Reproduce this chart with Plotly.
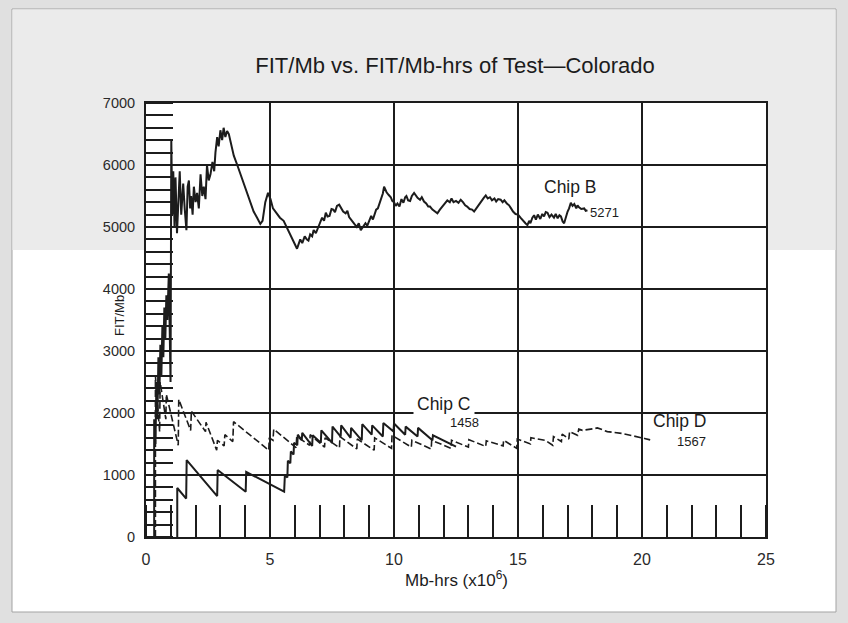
import plotly.graph_objects as go

# ---- data: cumulative FIT/Mb per chip vs. Mb-hrs (x10^6) ----
chip_b_x = [0.33, 0.33, 0.38, 0.42, 0.46, 0.50, 0.54, 0.58, 0.62, 0.66, 0.70, 0.74, 0.78, 0.82,
            0.86, 0.92, 0.99, 1.02, 1.06, 1.10, 1.15, 1.19, 1.25, 1.32, 1.36, 1.42, 1.50, 1.56,
            1.63, 1.68, 1.73, 1.78, 1.82, 1.88, 1.93, 2.00, 2.06, 2.13, 2.20, 2.27, 2.33, 2.40,
            2.46, 2.53, 2.60, 2.68, 2.75, 2.80, 2.87, 2.93, 3.00, 3.07, 3.13, 3.20, 3.27, 3.34,
            3.45, 3.54, 3.68, 3.81, 3.95, 4.08, 4.20, 4.34, 4.48, 4.61, 4.70, 4.81, 4.92, 5.02,
            5.12, 5.22, 5.40, 5.55, 5.72, 5.89, 6.00, 6.09,
            6.15, 6.22, 6.30, 6.40, 6.48, 6.55, 6.62, 6.70, 6.76, 6.85, 6.95, 7.02, 7.10, 7.18,
            7.25, 7.32, 7.40, 7.48, 7.55, 7.62, 7.70, 7.79, 7.87, 7.95, 8.05, 8.12, 8.19, 8.28,
            8.40, 8.50, 8.58, 8.66, 8.75, 8.85, 8.92, 9.00, 9.08, 9.15, 9.20, 9.28, 9.35, 9.42,
            9.50, 9.55, 9.60, 9.66, 9.70, 9.78, 9.87, 9.93, 10.00, 10.07, 10.14, 10.22, 10.30,
            10.38, 10.45, 10.50, 10.57, 10.65, 10.72, 10.81, 10.88, 10.95, 11.05, 11.12, 11.21,
            11.30, 11.38, 11.45, 11.55, 11.65, 11.75, 11.85, 11.95, 12.05, 12.15, 12.25, 12.32,
            12.40, 12.50, 12.60, 12.69, 12.78, 12.87, 12.95, 13.05, 13.15, 13.23, 13.32, 13.40,
            13.45, 13.55, 13.62, 13.70, 13.78, 13.87, 13.95, 14.05, 14.12, 14.20, 14.30, 14.38,
            14.45, 14.55, 14.64, 14.72, 14.80, 14.90, 15.00, 15.10, 15.20, 15.30, 15.38, 15.45,
            15.50, 15.58, 15.65, 15.72, 15.80, 15.90, 15.98, 16.05, 16.12, 16.19, 16.27, 16.35,
            16.45, 16.52, 16.60, 16.67, 16.73, 16.80, 16.86, 16.92, 17.00, 17.06, 17.13, 17.20,
            17.27, 17.35, 17.40, 17.45, 17.55, 17.67, 17.73, 17.80]
chip_b_y = [0, 1900, 1500, 2500, 1900, 2900, 2300, 3100, 2600, 3400, 2900, 3700, 3200, 3900,
            3500, 4250, 2500, 6400, 5200, 5900, 5000, 5800, 4900, 5400, 5900, 5200, 5700, 5300,
            4950, 5650, 5750, 5300, 5500, 5200, 5650, 5400, 5550, 5300, 5850, 5500, 5650, 5450,
            6000, 5750, 5850, 6050, 5900, 6200, 6450, 6300, 6560, 6400, 6600, 6450, 6550, 6500,
            6300, 6150, 6000, 5850, 5700, 5550, 5400, 5250, 5150, 5050, 5100, 5400, 5550, 5450,
            5300, 5250, 5150, 5100, 4950, 4800, 4700, 4650,
            4720, 4800, 4740, 4850, 4800, 4780, 4880, 4850, 4950, 4900, 5000, 5080, 5150, 5100,
            5230, 5170, 5180, 5290, 5280, 5240, 5340, 5360, 5300, 5250, 5220, 5260, 5160, 5120,
            5050, 5000, 5060, 4950, 5010, 5060, 5020, 5100, 5180, 5120, 5170, 5280, 5300, 5380,
            5450, 5540, 5650, 5590, 5560, 5520, 5480, 5420, 5400, 5340, 5380, 5330, 5450,
            5390, 5480, 5500, 5430, 5420, 5500, 5550, 5500, 5470, 5440, 5480, 5410,
            5380, 5330, 5330, 5280, 5250, 5220, 5280, 5330, 5380, 5430, 5400, 5460,
            5400, 5420, 5390, 5440, 5400, 5350, 5330, 5290, 5280, 5250, 5300, 5350,
            5380, 5430, 5470, 5510, 5460, 5480, 5430, 5460, 5410, 5450, 5440, 5400,
            5430, 5380, 5350, 5300, 5250, 5210, 5200, 5150, 5100, 5060, 5030, 5100,
            5060, 5150, 5190, 5120, 5200, 5130, 5210, 5170, 5240, 5230, 5160, 5200,
            5150, 5210, 5140, 5190, 5170, 5090, 5060, 5150, 5250, 5300, 5390, 5340,
            5370, 5300, 5350, 5320, 5290, 5300, 5260, 5271]

chip_c_x = [1.26, 1.26, 1.62, 1.64, 2.87, 2.89, 4.02, 4.04, 5.57, 5.60, 5.70, 5.72, 5.82, 5.84,
            5.95, 5.97, 6.10, 6.12, 6.28, 6.30, 6.70, 6.72, 7.05, 7.07, 7.50, 7.52, 7.85, 7.87,
            8.25, 8.27, 8.70, 8.72, 9.10, 9.12, 9.55, 9.57, 9.98, 10.00, 10.45, 10.47, 10.95,
            10.97, 11.55, 11.57, 12.50]
chip_c_y = [0, 790, 620, 1240, 660, 1080, 730, 1050, 730, 1000, 960, 1230, 1190, 1380,
            1330, 1520, 1480, 1650, 1560, 1680, 1470, 1640, 1520, 1720, 1520, 1780, 1620, 1800,
            1600, 1760, 1560, 1820, 1650, 1800, 1620, 1840, 1700, 1830, 1650, 1780, 1620,
            1760, 1560, 1640, 1458]

chip_d_x = [0.38, 0.38, 0.55, 0.57, 0.80, 0.82, 1.30, 1.32, 1.80, 1.83, 2.40, 2.42, 2.85, 2.88,
            3.15, 3.18, 3.50, 3.53, 4.95, 4.97, 5.12, 5.15, 6.05, 6.08, 6.60, 6.62, 7.20, 7.22,
            7.80, 7.82, 8.50, 8.52, 9.20, 9.22, 9.90, 9.92, 10.70, 10.72, 11.50, 11.52, 12.30,
            12.32, 13.00, 13.02, 13.70, 13.72, 14.40, 14.42, 14.95, 14.97, 15.50, 15.52, 16.10,
            16.40, 16.43, 16.75, 16.78, 17.05, 17.08, 17.40, 17.45, 17.60, 18.10, 18.20, 18.60,
            19.20, 20.10, 20.33]
chip_d_y = [0, 2600, 1700, 2500, 1900, 2300, 1480, 2220, 1720, 2030, 1700, 1850, 1400, 1560,
            1470, 1650, 1540, 1860, 1400, 1600, 1560, 1740, 1440, 1620, 1480, 1650, 1450, 1600,
            1440, 1620, 1420, 1580, 1400, 1600, 1430, 1640, 1450, 1560, 1420, 1560, 1430,
            1560, 1450, 1570, 1460, 1550, 1470, 1560, 1430, 1580, 1500, 1600, 1560,
            1480, 1620, 1540, 1660, 1580, 1700, 1640, 1740, 1720, 1750, 1760, 1700,
            1670, 1590, 1567]

x_tickvals = [0, 5, 10, 15, 20, 25]
y_tickvals = [0, 1000, 2000, 3000, 4000, 5000, 6000, 7000]

# ---- page geometry ----
W, H = 848, 623
ML, MR, MT, MB = 146, 82, 103, 86
PW, PH = W - ML - MR, H - MT - MB


def fx(px):
    return (px - ML) / PW


def fy(py):
    return (H - MB - py) / PH


INK = "#1c1c1c"
SANS = "Liberation Sans, Arial, Helvetica, sans-serif"

fig = go.Figure()
fig.add_trace(go.Scatter(x=chip_b_x, y=chip_b_y, mode="lines",
                         line=dict(color=INK, width=2), name="Chip B"))
fig.add_trace(go.Scatter(x=chip_c_x, y=chip_c_y, mode="lines",
                         line=dict(color=INK, width=2), name="Chip C"))
fig.add_trace(go.Scatter(x=chip_d_x, y=chip_d_y, mode="lines",
                         line=dict(color=INK, width=1.6, dash="7px,3px"), name="Chip D"))

# panel card with grey header band (kept outside the plotting area)
BAND = "#ebebeb"
shapes = [
    dict(type="rect", xref="paper", yref="paper", x0=fx(12), x1=fx(836), y0=fy(612), y1=fy(9),
         fillcolor="white", line=dict(color="#a3a3a3", width=1), layer="below"),
    dict(type="rect", xref="paper", yref="paper", x0=fx(12.5), x1=fx(835.5), y0=fy(MT), y1=fy(9.5),
         fillcolor=BAND, line=dict(width=0), layer="below"),
    dict(type="rect", xref="paper", yref="paper", x0=fx(12.5), x1=fx(ML), y0=fy(250), y1=fy(MT),
         fillcolor=BAND, line=dict(width=0), layer="below"),
    dict(type="rect", xref="paper", yref="paper", x0=fx(W - MR), x1=fx(835.5), y0=fy(250), y1=fy(MT),
         fillcolor=BAND, line=dict(width=0), layer="below"),
]

annotations = [
    dict(text="Chip B", x=17.1, y=5645, xref="x", yref="y", showarrow=False,
         font=dict(family=SANS, size=17.5, color=INK)),
    dict(text="5271", x=18.5, y=5240, xref="x", yref="y", showarrow=False,
         font=dict(family=SANS, size=13, color=INK)),
    dict(text="Chip C", x=12.0, y=2140, xref="x", yref="y", showarrow=False,
         bgcolor="white", borderpad=3,
         font=dict(family=SANS, size=17.5, color=INK)),
    dict(text="1458", x=12.83, y=1839, xref="x", yref="y", showarrow=False,
         font=dict(family=SANS, size=13, color=INK)),
    dict(text="Chip D", x=21.53, y=1870, xref="x", yref="y", showarrow=False,
         font=dict(family=SANS, size=17.5, color=INK)),
    dict(text="1567", x=21.98, y=1537, xref="x", yref="y", showarrow=False,
         font=dict(family=SANS, size=13, color=INK)),
    dict(text="FIT/Mb", x=fx(119), y=fy(316), xref="paper", yref="paper", showarrow=False,
         xanchor="center", yanchor="middle", textangle=-90,
         font=dict(family=SANS, size=13, color=INK)),
    dict(text="Mb-hrs (x10<sup>6</sup>)", x=fx(456), y=fy(579), xref="paper", yref="paper",
         xanchor="center", yanchor="middle",
         showarrow=False, font=dict(family=SANS, size=17, color=INK)),
]

axis_common = dict(
    showgrid=True, gridcolor=INK, gridwidth=1.6,
    showline=True, linecolor=INK, linewidth=2, mirror=True,
    ticks="", zeroline=False,
)

fig.update_layout(
    width=W, height=H,
    margin=dict(l=ML, r=MR, t=MT, b=MB),
    paper_bgcolor="#e0e0e0",
    plot_bgcolor="white",
    showlegend=False,
    shapes=shapes,
    annotations=annotations,
    title=dict(text="FIT/Mb vs. FIT/Mb-hrs of Test\u2014Colorado",
               x=455 / W, xref="container", xanchor="center",
               y=1 - 65 / H, yref="container", yanchor="middle",
               font=dict(family=SANS, size=22, color=INK)),
    xaxis=dict(range=[0, 25], tickvals=x_tickvals, ticklabelstandoff=7,
               tickfont=dict(family=SANS, size=16, color="#2a2a2a"),
               minor=dict(ticks="inside", dtick=1, ticklen=32, tickwidth=1.5,
                          tickcolor=INK, showgrid=False),
               **axis_common),
    yaxis=dict(range=[0, 7000], tickvals=y_tickvals, ticklabelstandoff=6,
               tickfont=dict(family=SANS, size=14.5, color="#2a2a2a"),
               minor=dict(ticks="inside", dtick=200, ticklen=27, tickwidth=1.5,
                          tickcolor=INK, showgrid=False),
               **axis_common),
)

fig.write_html("out.html")
